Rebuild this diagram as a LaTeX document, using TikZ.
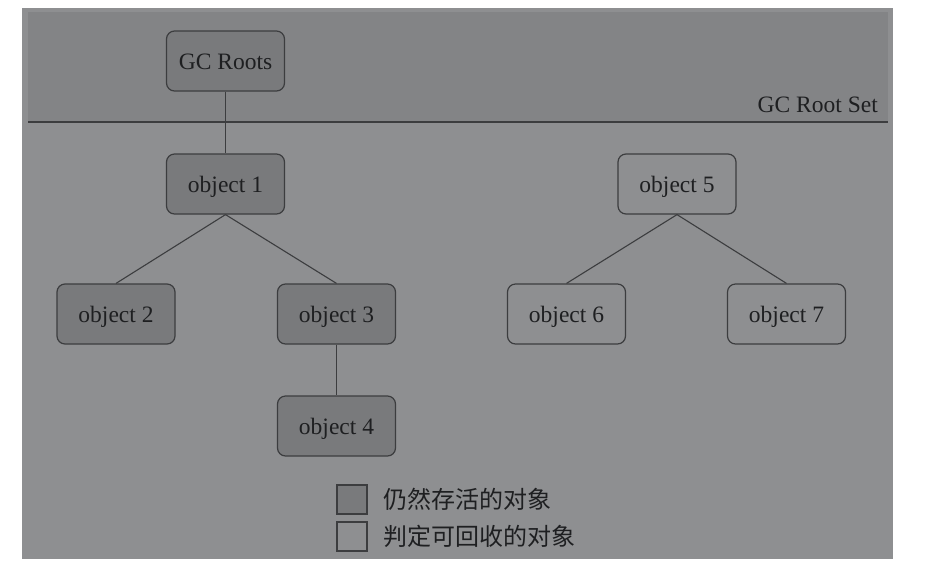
\documentclass[tikz,border=0pt]{standalone}
\usepackage{fontspec}
\setmainfont{Liberation Serif}
\newfontfamily\cjk{Noto Sans CJK SC}
\definecolor{outergray}{HTML}{8E8F91}
\definecolor{bandgray}{HTML}{838486}
\definecolor{livegray}{HTML}{797A7C}
\definecolor{linegray}{HTML}{3C3D3F}
\definecolor{textgray}{HTML}{1E1F21}
\tikzset{
  objbox/.style={draw=linegray, line width=1.2pt, rounded corners=8pt, minimum width=118pt, minimum height=60pt, inner sep=0pt, text height=22pt, text depth=5pt, text=textgray, font=\fontsize{23.5}{27}\selectfont},
  live/.style={objbox, fill=livegray},
  dead/.style={objbox, fill=outergray},
  link/.style={draw=linegray, line width=1.1pt},
  legbox/.style={draw=linegray, line width=1.1pt, minimum width=30pt, minimum height=29pt, inner sep=0pt},
  legtext/.style={text=textgray, font=\cjk\fontsize{24}{28}\selectfont, anchor=west, inner sep=0pt}
}
\begin{document}
\begin{tikzpicture}[x=1pt,y=-1pt]
\useasboundingbox (0,0) rectangle (950,574);
\fill[white] (0,0) rectangle (950,574);
\fill[outergray] (22,8) rectangle (893,559);
\fill[bandgray] (28,12) rectangle (888,122);
\draw[linegray, line width=1.3pt] (28,122) -- (888,122);
\node[anchor=base east, inner sep=0pt, text=textgray, font=\fontsize{23.5}{27}\selectfont] (rootset) at (878,112) {GC Root Set};

\node[live] (roots) at (225.5,61) {GC Roots};
\node[live] (o1) at (225.5,184) {object 1};
\node[live] (o2) at (116,314) {object 2};
\node[live] (o3) at (336.5,314) {object 3};
\node[live] (o4) at (336.5,426) {object 4};
\node[dead] (o5) at (677,184) {object 5};
\node[dead] (o6) at (566.5,314) {object 6};
\node[dead] (o7) at (786.5,314) {object 7};

\draw[link] (roots.south) -- (o1.north);
\draw[link] (o1.south) -- (o2.north);
\draw[link] (o1.south) -- (o3.north);
\draw[link] (o3.south) -- (o4.north);
\draw[link] (o5.south) -- (o6.north);
\draw[link] (o5.south) -- (o7.north);

\node[legbox, fill=livegray] (lg1) at (352,499.5) {};
\node[legbox, fill=outergray] (lg2) at (352,536.5) {};
\node[legtext] (lt1) at (383,499.5) {仍然存活的对象};
\node[legtext] (lt2) at (383,536.5) {判定可回收的对象};
\end{tikzpicture}
\end{document}
